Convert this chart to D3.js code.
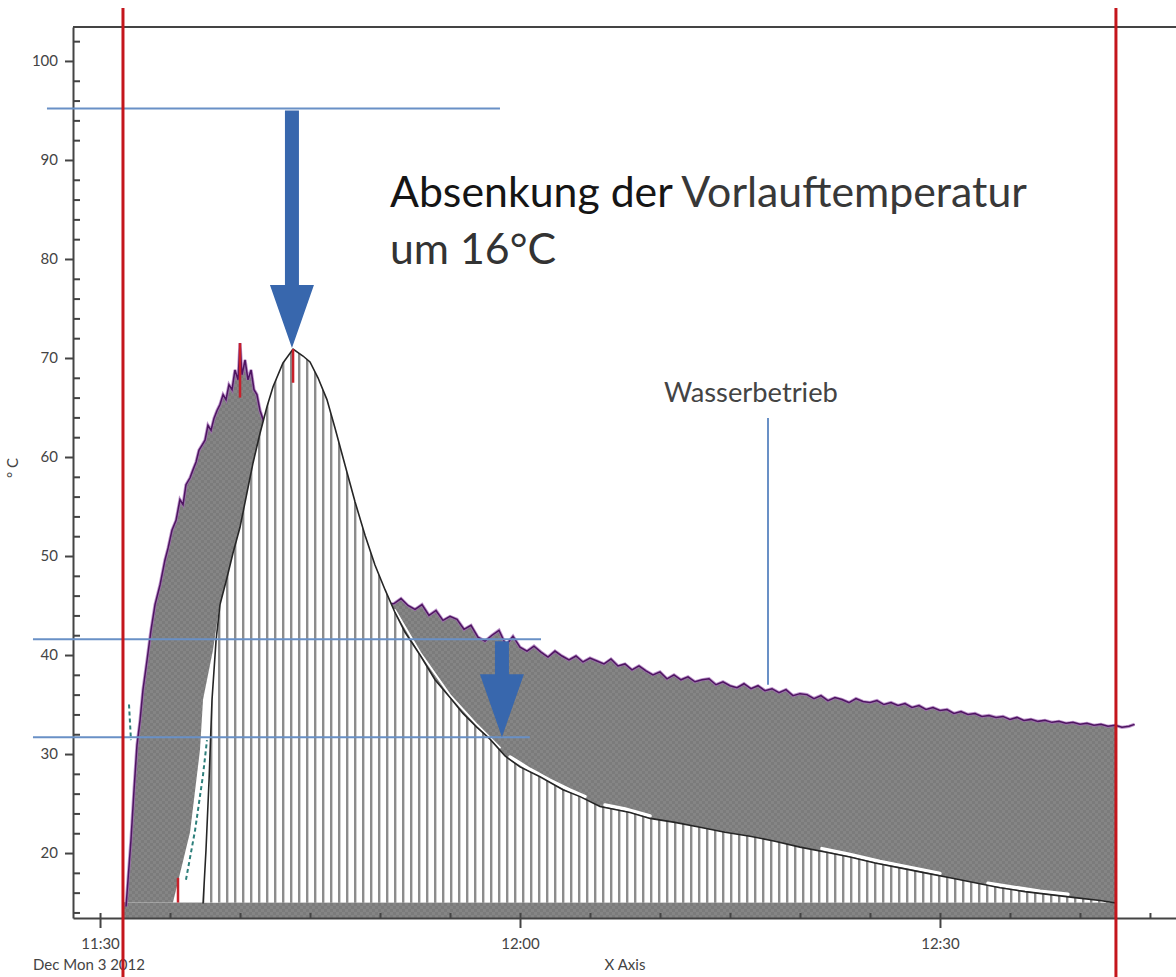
<!DOCTYPE html>
<html>
<head>
<meta charset="utf-8">
<script src="https://cdn.jsdelivr.net/npm/d3@7"></script>
<style>
  body { margin: 0; background: #fff; }
  svg { display: block; font-family: Lato, "Open Sans", sans-serif; }
</style>
</head>
<body>
<script>
// all times are minutes after 11:30 on Mon 3 Dec 2012, temperatures in °C

// Vorlauf (purple trace), the part between 11.8 and 20.4 min lies hidden behind the return curve
var vorlauf = [
  [1.86,14.6],[2.00,17.3],[2.21,21.3],[2.43,26.4],[2.64,30.9],[2.86,33.4],[3.07,36.5],[3.36,39.5],
  [3.64,42.5],[3.93,45.1],[4.29,47.1],[4.64,49.6],[4.86,50.8],[5.14,52.6],[5.43,53.6],[5.71,55.7],
  [5.93,55.2],[6.14,57.2],[6.43,57.9],[6.64,58.7],[6.86,59.5],[7.07,60.7],[7.29,61.2],[7.50,61.7],
  [7.71,63.2],[7.93,62.7],[8.14,63.9],[8.36,64.7],[8.57,65.3],[8.79,66.3],[9.00,65.8],[9.21,67.3],
  [9.43,66.8],[9.64,68.8],[9.86,67.8],[10.00,71.5],[10.14,68.3],[10.36,69.8],[10.57,67.8],[10.79,68.8],
  [11.00,66.8],[11.21,66.3],[11.43,64.7],[11.79,63.2],[12.5,61.7],[14.29,56.7],[16.43,51.6],[18.57,47.6],
  [20.36,45.1],
  [21.0,45.2],[21.5,45.7],[22.0,45.0],[22.5,44.6],[23.0,45.1],[23.5,44.0],[24.0,44.5],[24.5,43.5],
  [25.0,43.9],[25.5,43.6],[26.0,42.6],[26.5,43.0],[27.0,41.8],[27.5,41.4],[28.0,42.0],[28.5,42.5],
  [29.0,41.0],[29.5,41.9],[30.0,40.8],[30.5,40.4],[31.0,40.9],[31.5,40.3],[32.0,39.8],[32.5,40.4],
  [33.0,39.9],[33.5,39.5],[34.0,39.9],[34.5,39.3],[35.0,39.7],[35.5,39.4],[36.0,39.1],[36.5,39.6],
  [37.0,38.9],[37.5,39.1],[38.0,38.5],[38.5,38.9],[39.0,38.4],[39.5,38.0],[40.0,38.3],[40.5,37.6],
  [41.0,38.0],[41.5,37.5],[42.0,37.8],[42.5,37.3],[43.0,37.5],[43.5,37.6],[44.0,37.0],[44.5,37.3],
  [45.0,36.9],[45.5,36.7],[46.0,37.1],[46.5,36.6],[47.0,36.9],[47.5,36.4],[48.0,36.6],[48.5,36.2],
  [49.0,36.5],[49.5,35.9],[50.0,36.1],[50.5,36.0],[51.0,35.6],[51.5,35.9],[52.0,35.4],[52.5,35.7],
  [53.0,35.5],[53.5,35.2],[54.0,35.6],[54.5,35.3],[55.0,35.2],[55.5,35.4],[56.0,35.0],[56.5,35.2],
  [57.0,34.9],[57.5,35.1],[58.0,34.7],[58.5,34.9],[59.0,34.5],[59.5,34.7],[60.0,34.4],[60.5,34.5],
  [61.0,34.1],[61.5,34.3],[62.0,34.0],[62.5,34.1],[63.0,33.8],[63.5,33.9],[64.0,33.7],[64.5,33.8],
  [65.0,33.5],[65.5,33.7],[66.0,33.4],[66.5,33.5],[67.0,33.3],[67.5,33.4],[68.0,33.2],[68.5,33.3],
  [69.0,33.1],[69.5,33.2],[70.0,33.0],[70.5,33.1],[71.0,32.9],[71.5,33.0],[72.0,32.8],[72.5,32.9],
  [73.0,32.7],[73.5,32.8],[73.9,33.0]
];

// Rücklauf (black trace, top of the hatched area)
var ruecklauf = [
  [7.36,14.9],[7.57,20.3],[7.79,27.4],[8.0,35.5],[8.29,41.5],[8.57,45.1],[9.07,47.8],[9.5,50.3],
  [10.0,52.9],[10.5,56.4],[10.93,59.4],[11.43,62.4],[11.93,65.1],[12.36,67.1],[13.07,69.5],[13.79,70.9],
  [14.5,70.2],[15.0,69.6],[15.57,68.0],[16.21,65.8],[16.79,62.9],[17.5,59.2],[18.21,55.5],[18.93,52.1],
  [19.64,49.1],[20.36,46.6],[21.07,44.3],[21.79,42.3],[22.86,40.0],[23.93,37.5],[25.0,35.7],[25.93,34.1],
  [26.93,32.7],[27.86,31.5],[28.93,29.8],[30.0,28.7],[31.43,27.7],[33.07,26.4],[34.29,25.7],[35.71,24.7],
  [37.86,24.1],[39.29,23.5],[41.07,23.1],[42.86,22.6],[44.64,22.1],[46.43,21.7],[48.21,21.2],[50.0,20.6],
  [51.79,20.1],[53.57,19.6],[55.36,19.0],[57.14,18.5],[58.93,18.0],[60.71,17.5],[62.5,17.0],[64.29,16.5],
  [66.07,16.1],[67.86,15.8],[69.64,15.5],[71.43,15.2],[72.57,14.95]
];

// lower edge of the grey band while the system heats up
var grauUnten = [[1.64,15],[5.21,15],[6.43,22.1],[7.14,30.4],[7.36,35.5],[8.07,40.5],[8.57,45.3],[8.6,15],[73.9,15]];

// white gaps just above the return curve
var spalten = [
  [[21.07,44.55],[22.86,40.25],[25.0,35.95],[26.93,32.95],[28.57,30.65]],
  [[29.29,29.7],[30.71,28.45],[32.14,27.35],[33.57,26.35],[34.64,25.7]],
  [[36.07,24.85],[37.5,24.45],[39.29,23.75]],
  [[51.57,20.45],[53.57,19.85],[55.71,19.15],[57.86,18.55],[60.0,17.95]],
  [[63.43,16.95],[65.0,16.6],[67.14,16.15],[69.14,15.85]]
];

var tuerkis = [
  [[2.07,35.0],[2.21,31.4]],
  [[6.14,17.3],[6.79,22.3],[7.36,27.9],[7.64,31.4]]
];

// short red marks: time, from, to
var rotMarken = [[5.57,15,17.5],[10.0,66,71.5],[13.79,67.5,70.9]];

var cursorZeiten = [1.64, 72.57];
var basisTemp = 15;

// annotation lines: from, to, level
var hilfslinien = [[-3.79,28.57,95.2],[-4.79,31.5,41.6],[-4.79,30.7,31.7]];
// arrows: time, start, tip
var pfeile = [[13.71,95.2,71.0],[28.71,41.6,31.7]];

var yTicks = [20,30,40,50,60,70,80,90,100];
var xTickLabels = ["11:30","12:00","12:30"];

var t0 = new Date(2012, 11, 3, 11, 30);
function zeit(m) { return new Date(t0.getTime() + m * 60000); }

var width = 1176, height = 977;
var x = d3.scaleTime().domain([zeit(-1.93), zeit(76.86)]).range([73, 1176]);
var y = d3.scaleLinear().domain([13.44, 103.43]).range([918, 27]);

var svg = d3.select("body").append("svg").attr("width", width).attr("height", height);
var defs = svg.append("defs");

var hatch = defs.append("pattern").attr("id", "hatch").attr("patternUnits", "userSpaceOnUse")
    .attr("width", 8).attr("height", 10);
hatch.append("rect").attr("width", 8).attr("height", 10).attr("fill", "#fff");
hatch.append("rect").attr("x", 2).attr("width", 2.4).attr("height", 10).attr("fill", "#8c8c8c");

var grau = defs.append("pattern").attr("id", "grau").attr("patternUnits", "userSpaceOnUse")
    .attr("width", 6).attr("height", 6);
grau.append("rect").attr("width", 6).attr("height", 6).attr("fill", "#7b7b7b");
grau.append("rect").attr("width", 3).attr("height", 3).attr("fill", "#858585");
grau.append("rect").attr("x", 3).attr("y", 3).attr("width", 3).attr("height", 3).attr("fill", "#858585");

defs.append("clipPath").attr("id", "cursorClip").append("rect")
    .attr("x", x(zeit(cursorZeiten[0]))).attr("y", y.range()[1])
    .attr("width", x(zeit(cursorZeiten[1])) - x(zeit(cursorZeiten[0])))
    .attr("height", y.range()[0] - y.range()[1]);

var line = d3.line()
    .x(function(d) { return x(zeit(d[0])); })
    .y(function(d) { return y(d[1]); });

// layers, back to front
var gGrau = svg.append("g").attr("clip-path", "url(#cursorClip)");
var gVorlauf = svg.append("g");
var gHatch = svg.append("g").attr("clip-path", "url(#cursorClip)");
var gLinien = svg.append("g");

// grey band below the base line
gGrau.append("rect")
    .attr("x", x(zeit(cursorZeiten[0])))
    .attr("y", y(basisTemp))
    .attr("width", x(zeit(cursorZeiten[1])) - x(zeit(cursorZeiten[0])))
    .attr("height", y(y.domain()[0]) - y(basisTemp))
    .attr("fill", "url(#grau)");

// grey area between Vorlauf and its lower edge
gGrau.append("path")
    .attr("d", line(vorlauf.concat(grauUnten.slice().reverse())) + "Z")
    .attr("fill", "url(#grau)");

// purple trace
gVorlauf.append("path").datum(vorlauf).attr("d", line)
    .attr("fill", "none").attr("stroke", "#a469b8").attr("stroke-width", 3.2).attr("stroke-opacity", 0.7);
gVorlauf.append("path").datum(vorlauf).attr("d", line)
    .attr("fill", "none").attr("stroke", "#4e1561").attr("stroke-width", 1.5);

// hatched area under the return curve
gHatch.append("path").datum(ruecklauf)
    .attr("d", d3.area()
        .x(function(d) { return x(zeit(d[0])); })
        .y0(y(basisTemp))
        .y1(function(d) { return y(d[1]); }))
    .attr("fill", "url(#hatch)");

spalten.forEach(function(s, i) {
  gHatch.append("path").datum(s).attr("d", line)
      .attr("fill", "none").attr("stroke", "#fff")
      .attr("stroke-width", i == 0 ? 2 : 3.5).attr("stroke-linecap", "round");
});

gLinien.append("path").datum(ruecklauf).attr("d", line)
    .attr("fill", "none").attr("stroke", "#262626").attr("stroke-width", 1.6);

tuerkis.forEach(function(s) {
  gLinien.append("path").datum(s).attr("d", line)
      .attr("fill", "none").attr("stroke", "#2d7f7b").attr("stroke-width", 2)
      .attr("stroke-dasharray", "4,3");
});

gLinien.selectAll(".rot").data(rotMarken).enter().append("line")
    .attr("class", "rot")
    .attr("x1", function(d) { return x(zeit(d[0])); })
    .attr("x2", function(d) { return x(zeit(d[0])); })
    .attr("y1", function(d) { return y(d[1]); })
    .attr("y2", function(d) { return y(d[2]); })
    .attr("stroke", "#c8202a").attr("stroke-width", 2.5);

// axes
var axisColor = "#444";
var yAxis = svg.append("g").attr("transform", "translate(73,0)")
    .call(d3.axisLeft(y).tickValues(yTicks).tickSize(8).tickSizeOuter(0).tickPadding(7));
var yMinor = svg.append("g").attr("transform", "translate(73,0)")
    .call(d3.axisRight(y).tickValues(d3.range(14, 103, 2).filter(function(v) { return v % 10; }))
      .tickSize(7).tickSizeOuter(0).tickFormat(""));
yMinor.select(".domain").remove();

var xMajor = xTickLabels.map(function(s) {
  var p = s.split(":");
  return new Date(2012, 11, 3, +p[0], +p[1]);
});
var xAxis = svg.append("g").attr("transform", "translate(0,918)")
    .call(d3.axisBottom(x).tickValues(xMajor).tickSize(10).tickSizeOuter(0).tickPadding(10)
      .tickFormat(d3.timeFormat("%H:%M")));
var xMinor = svg.append("g").attr("transform", "translate(0,918)")
    .call(d3.axisTop(x).ticks(d3.timeMinute.every(5)).tickSize(5).tickSizeOuter(0).tickFormat(""));
xMinor.select(".domain").remove();

[yAxis, yMinor, xAxis, xMinor].forEach(function(g) {
  g.selectAll("path,line").attr("stroke", axisColor).attr("stroke-width", 2);
  g.selectAll("text").attr("fill", "#444").attr("font-size", 15).attr("font-family", "Lato, sans-serif");
});

svg.append("line").attr("x1", 73).attr("x2", width).attr("y1", y.range()[1]).attr("y2", y.range()[1])
    .attr("stroke", axisColor).attr("stroke-width", 2);

svg.append("text").attr("x", 89).attr("y", 970).attr("text-anchor", "middle")
    .attr("font-size", 15).attr("fill", "#444").text("Dec Mon 3 2012");
svg.append("text").attr("x", 625).attr("y", 970).attr("text-anchor", "middle")
    .attr("font-size", 15).attr("fill", "#444").text("X Axis");
svg.append("text").attr("transform", "translate(18,468) rotate(-90)").attr("text-anchor", "middle")
    .attr("font-size", 15).attr("fill", "#444").text("° C");

// annotation lines and arrows
svg.selectAll(".hilfslinie").data(hilfslinien).enter().append("line")
    .attr("class", "hilfslinie")
    .attr("x1", function(d) { return x(zeit(d[0])); })
    .attr("x2", function(d) { return x(zeit(d[1])); })
    .attr("y1", function(d) { return y(d[2]); })
    .attr("y2", function(d) { return y(d[2]); })
    .attr("stroke", "#6990c6").attr("stroke-width", 2);

svg.selectAll(".pfeil").data(pfeile).enter().append("path")
    .attr("class", "pfeil")
    .attr("d", function(d) {
      var px = x(zeit(d[0])), top = y(d[1]) + 2, tip = y(d[2]);
      var headLen = 63, headHalf = 22, shaft = 7;
      return "M" + (px - shaft) + "," + top + "L" + (px + shaft) + "," + top +
             "L" + (px + shaft) + "," + (tip - headLen) + "L" + (px + headHalf) + "," + (tip - headLen) +
             "L" + px + "," + tip + "L" + (px - headHalf) + "," + (tip - headLen) +
             "L" + (px - shaft) + "," + (tip - headLen) + "Z";
    })
    .attr("fill", "#3867ad");

// cursors
svg.selectAll(".cursor").data(cursorZeiten).enter().append("line")
    .attr("class", "cursor")
    .attr("x1", function(d) { return x(zeit(d)); })
    .attr("x2", function(d) { return x(zeit(d)); })
    .attr("y1", 8).attr("y2", height)
    .attr("stroke", "#c4161c").attr("stroke-width", 3);

function fitWidth(sel, w) {
  var len = sel.node().getComputedTextLength();
  sel.attr("font-size", parseFloat(sel.attr("font-size")) * w / len);
}

var titel = svg.append("text").attr("x", 390).attr("y", 207).attr("font-size", 40);
titel.append("tspan").attr("fill", "#151515").text("Absenkung der ");
titel.append("tspan").attr("fill", "#383838").text("Vorlauftemperatur");
fitWidth(titel, 637);
var fs = titel.attr("font-size");
svg.append("text").attr("x", 390).attr("y", 264).attr("font-size", fs).attr("fill", "#333")
    .text("um 16°C");

var wasser = svg.append("text").attr("x", 664).attr("y", 402).attr("font-size", 24)
    .attr("fill", "#444").text("Wasserbetrieb");
fitWidth(wasser, 174);
svg.append("line").attr("x1", 768).attr("x2", 768)
    .attr("y1", 418).attr("y2", y(vorlauf[d3.bisector(function(d) { return d[0]; }).left(vorlauf, 47.7)][1]) - 4)
    .attr("stroke", "#6990c6").attr("stroke-width", 2);
</script>
</body>
</html>
